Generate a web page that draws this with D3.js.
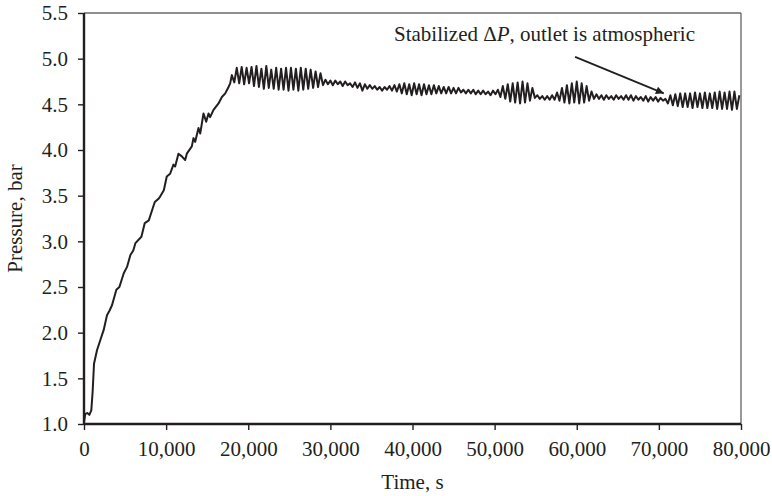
<!DOCTYPE html>
<html>
<head>
<meta charset="utf-8">
<script src="https://cdn.jsdelivr.net/npm/d3@7"></script>
<style>
  html, body { margin: 0; padding: 0; background: #fff; }
  svg { display: block; }
  text { font-family: "Liberation Serif", "Times New Roman", serif; fill: #231f20; }
</style>
</head>
<body>
<svg id="chart" width="772" height="496"></svg>
<script>
// Inlet pressure during start-up: steady rise, then oscillating plateau.
// Rising section [time s, pressure bar]
const riseSection = [
  [0,1.02],[160,1.11],[400,1.12],[650,1.10],[890,1.15],[1050,1.35],[1220,1.66],
  [1590,1.81],[1990,1.92],[2400,2.03],[2800,2.19],[3100,2.24],[3410,2.30],
  [3940,2.47],[4310,2.50],[4840,2.65],[5240,2.72],[5650,2.85],[6000,2.90],
  [6260,2.98],[6990,3.05],[7400,3.20],[7890,3.23],[8290,3.34],[8620,3.43],
  [9110,3.47],[9270,3.49],[9720,3.56],[10080,3.71],[10490,3.74],[10890,3.84],
  [11100,3.82],[11500,3.96],[11910,3.93],[12320,3.89],[12520,3.96],[13130,4.04],
  [13330,4.13],[13540,4.09],[13940,4.24],[14150,4.18],[14550,4.40],[14880,4.31],
  [15160,4.40],[15360,4.36],[15770,4.44],[16380,4.51],[16790,4.58],[17200,4.62],
  [17600,4.69],[17800,4.73]
];

// Oscillating plateau, 18,000 s to 80,000 s [time s, pressure bar]
const plateauSection = [
  [18000,4.82],[18300,4.74],[18600,4.90],[18900,4.73],[19200,4.91],[19500,4.72],
  [19800,4.90],[20100,4.73],[20400,4.91],[20700,4.70],[21000,4.92],[21300,4.69],
  [21600,4.89],[21900,4.67],[22200,4.92],[22500,4.68],[22800,4.88],[23100,4.67],
  [23400,4.90],[23700,4.66],[24000,4.89],[24300,4.66],[24600,4.90],[24900,4.65],
  [25200,4.90],[25500,4.66],[25800,4.89],[26100,4.65],[26400,4.90],[26700,4.66],
  [27000,4.89],[27300,4.67],[27600,4.88],[27900,4.68],[28200,4.86],[28500,4.69],
  [28800,4.84],[29100,4.71],[29400,4.77],[29700,4.72],[30000,4.76],[30300,4.71],
  [30600,4.76],[30900,4.72],[31200,4.75],[31500,4.70],[31800,4.75],[32100,4.71],
  [32400,4.73],[32700,4.69],[33000,4.74],[33300,4.68],[33600,4.73],[33900,4.65],
  [34200,4.72],[34500,4.67],[34800,4.71],[35100,4.67],[35400,4.70],[35700,4.66],
  [36000,4.69],[36300,4.65],[36600,4.69],[36900,4.66],[37200,4.70],[37500,4.65],
  [37800,4.71],[38100,4.64],[38400,4.72],[38700,4.62],[39000,4.73],[39300,4.61],
  [39600,4.72],[39900,4.60],[40200,4.73],[40500,4.61],[40800,4.72],[41100,4.60],
  [41400,4.72],[41700,4.61],[42000,4.71],[42300,4.61],[42600,4.71],[42900,4.62],
  [43200,4.70],[43500,4.62],[43800,4.69],[44100,4.62],[44400,4.69],[44700,4.62],
  [45000,4.68],[45300,4.62],[45600,4.68],[45900,4.63],[46200,4.66],[46500,4.62],
  [46800,4.66],[47100,4.62],[47400,4.66],[47700,4.61],[48000,4.65],[48300,4.61],
  [48600,4.65],[48900,4.61],[49200,4.64],[49500,4.60],[49800,4.65],[50100,4.61],
  [50400,4.66],[50700,4.58],[51000,4.70],[51300,4.56],[51600,4.72],[51900,4.53],
  [52200,4.73],[52500,4.52],[52800,4.74],[53100,4.51],[53400,4.75],[53700,4.52],
  [54000,4.73],[54300,4.54],[54600,4.68],[54900,4.57],[55200,4.60],[55500,4.56],
  [55800,4.59],[56100,4.55],[56400,4.59],[56700,4.55],[57000,4.60],[57300,4.55],
  [57600,4.63],[57900,4.54],[58200,4.68],[58500,4.52],[58800,4.71],[59100,4.51],
  [59400,4.73],[59700,4.52],[60000,4.75],[60300,4.51],[60600,4.73],[60900,4.52],
  [61200,4.70],[61500,4.54],[61800,4.64],[62100,4.56],[62400,4.61],[62700,4.56],
  [63000,4.60],[63300,4.55],[63600,4.60],[63900,4.56],[64200,4.59],[64500,4.55],
  [64800,4.60],[65100,4.56],[65400,4.59],[65700,4.55],[66000,4.60],[66300,4.55],
  [66600,4.60],[66900,4.54],[67200,4.59],[67500,4.55],[67800,4.58],[68100,4.54],
  [68400,4.59],[68700,4.53],[69000,4.58],[69300,4.54],[69600,4.58],[69900,4.53],
  [70200,4.57],[70500,4.54],[70800,4.56],[71100,4.51],[71400,4.60],[71700,4.49],
  [72000,4.61],[72300,4.48],[72600,4.62],[72900,4.47],[73200,4.62],[73500,4.47],
  [73800,4.62],[74100,4.46],[74400,4.63],[74700,4.47],[75000,4.62],[75300,4.46],
  [75600,4.63],[75900,4.46],[76200,4.62],[76500,4.46],[76800,4.63],[77100,4.45],
  [77400,4.64],[77700,4.45],[78000,4.63],[78300,4.45],[78600,4.64],[78900,4.44],
  [79200,4.64],[79500,4.45],[79800,4.60]
];

const xTicks = [0, 10000, 20000, 30000, 40000, 50000, 60000, 70000, 80000];
const yTicks = [1.0, 1.5, 2.0, 2.5, 3.0, 3.5, 4.0, 4.5, 5.0, 5.5];

// Annotation: arrow tip sits on the curve near 70,600 s
const noteTail = [59800, 5.02];
const noteTip = [70600, 4.62];

const W = 772, H = 496;
const margin = { top: 13, right: 31, bottom: 72, left: 84 };
const innerW = W - margin.left - margin.right;
const innerH = H - margin.top - margin.bottom;
const ink = "#231f20";
const fontSize = "21px";

const svg = d3.select("#chart");
const g = svg.append("g").attr("transform", `translate(${margin.left},${margin.top})`);

const x = d3.scaleLinear().domain([0, 80000]).range([0, innerW]);
const y = d3.scaleLinear().domain([1.0, 5.5]).range([innerH, 0]);

// Frame: thin top and right edges
g.append("line").attr("x1", 0).attr("x2", innerW).attr("y1", 0).attr("y2", 0)
  .attr("stroke", ink).attr("stroke-width", 1.2);
g.append("line").attr("x1", innerW).attr("x2", innerW).attr("y1", 0).attr("y2", innerH)
  .attr("stroke", "#555").attr("stroke-width", 1.2);

// Axes
const fmtX = d3.format(",");
const xAxis = g.append("g").attr("transform", `translate(0,${innerH})`)
  .call(d3.axisBottom(x).tickValues(xTicks).tickFormat(fmtX).tickSize(6).tickPadding(11));
const yAxis = g.append("g")
  .call(d3.axisLeft(y).tickValues(yTicks).tickFormat(d3.format(".1f")).tickSize(6).tickPadding(10));

[xAxis, yAxis].forEach(a => {
  a.select(".domain").attr("stroke", ink).attr("stroke-width", 2.4);
  a.selectAll(".tick line").attr("stroke", ink).attr("stroke-width", 1.4);
  a.selectAll(".tick text").attr("fill", ink)
    .style("font-family", '"Liberation Serif", serif').style("font-size", fontSize);
});
xAxis.select(".domain").attr("d", `M0,0H${innerW}`);
yAxis.select(".domain").attr("d", `M0,0V${innerH}`);

// Pressure trace
const series = riseSection.concat(plateauSection);
const line = d3.line().x(d => x(d[0])).y(d => y(d[1])).curve(d3.curveLinear);
g.append("path").datum(series)
  .attr("d", line)
  .attr("fill", "none")
  .attr("stroke", ink)
  .attr("stroke-width", 2)
  .attr("stroke-linejoin", "round");

// Annotation arrow
svg.append("defs").append("marker")
  .attr("id", "head").attr("viewBox", "0 0 10 10")
  .attr("refX", 10).attr("refY", 5)
  .attr("markerWidth", 5.5).attr("markerHeight", 4.4)
  .attr("orient", "auto")
  .append("path").attr("d", "M0,0L10,5L0,10Z").attr("fill", ink);

g.append("line")
  .attr("x1", x(noteTail[0])).attr("y1", y(noteTail[1]))
  .attr("x2", x(noteTip[0])).attr("y2", y(noteTip[1]))
  .attr("stroke", ink).attr("stroke-width", 1.8)
  .attr("marker-end", "url(#head)");

const note = g.append("text")
  .attr("x", x(80000) - 46)
  .attr("y", 28)
  .attr("text-anchor", "end")
  .style("font-size", fontSize);
note.append("tspan").text("Stabilized \u0394");
note.append("tspan").attr("font-style", "italic").text("P");
note.append("tspan").text(", outlet is atmospheric");

// Axis titles
svg.append("text")
  .attr("x", margin.left + innerW / 2)
  .attr("y", 489)
  .attr("text-anchor", "middle")
  .style("font-size", fontSize)
  .text("Time, s");

svg.append("text")
  .attr("transform", `translate(22,${margin.top + innerH / 2}) rotate(-90)`)
  .attr("text-anchor", "middle")
  .style("font-size", fontSize)
  .text("Pressure, bar");
</script>
</body>
</html>
